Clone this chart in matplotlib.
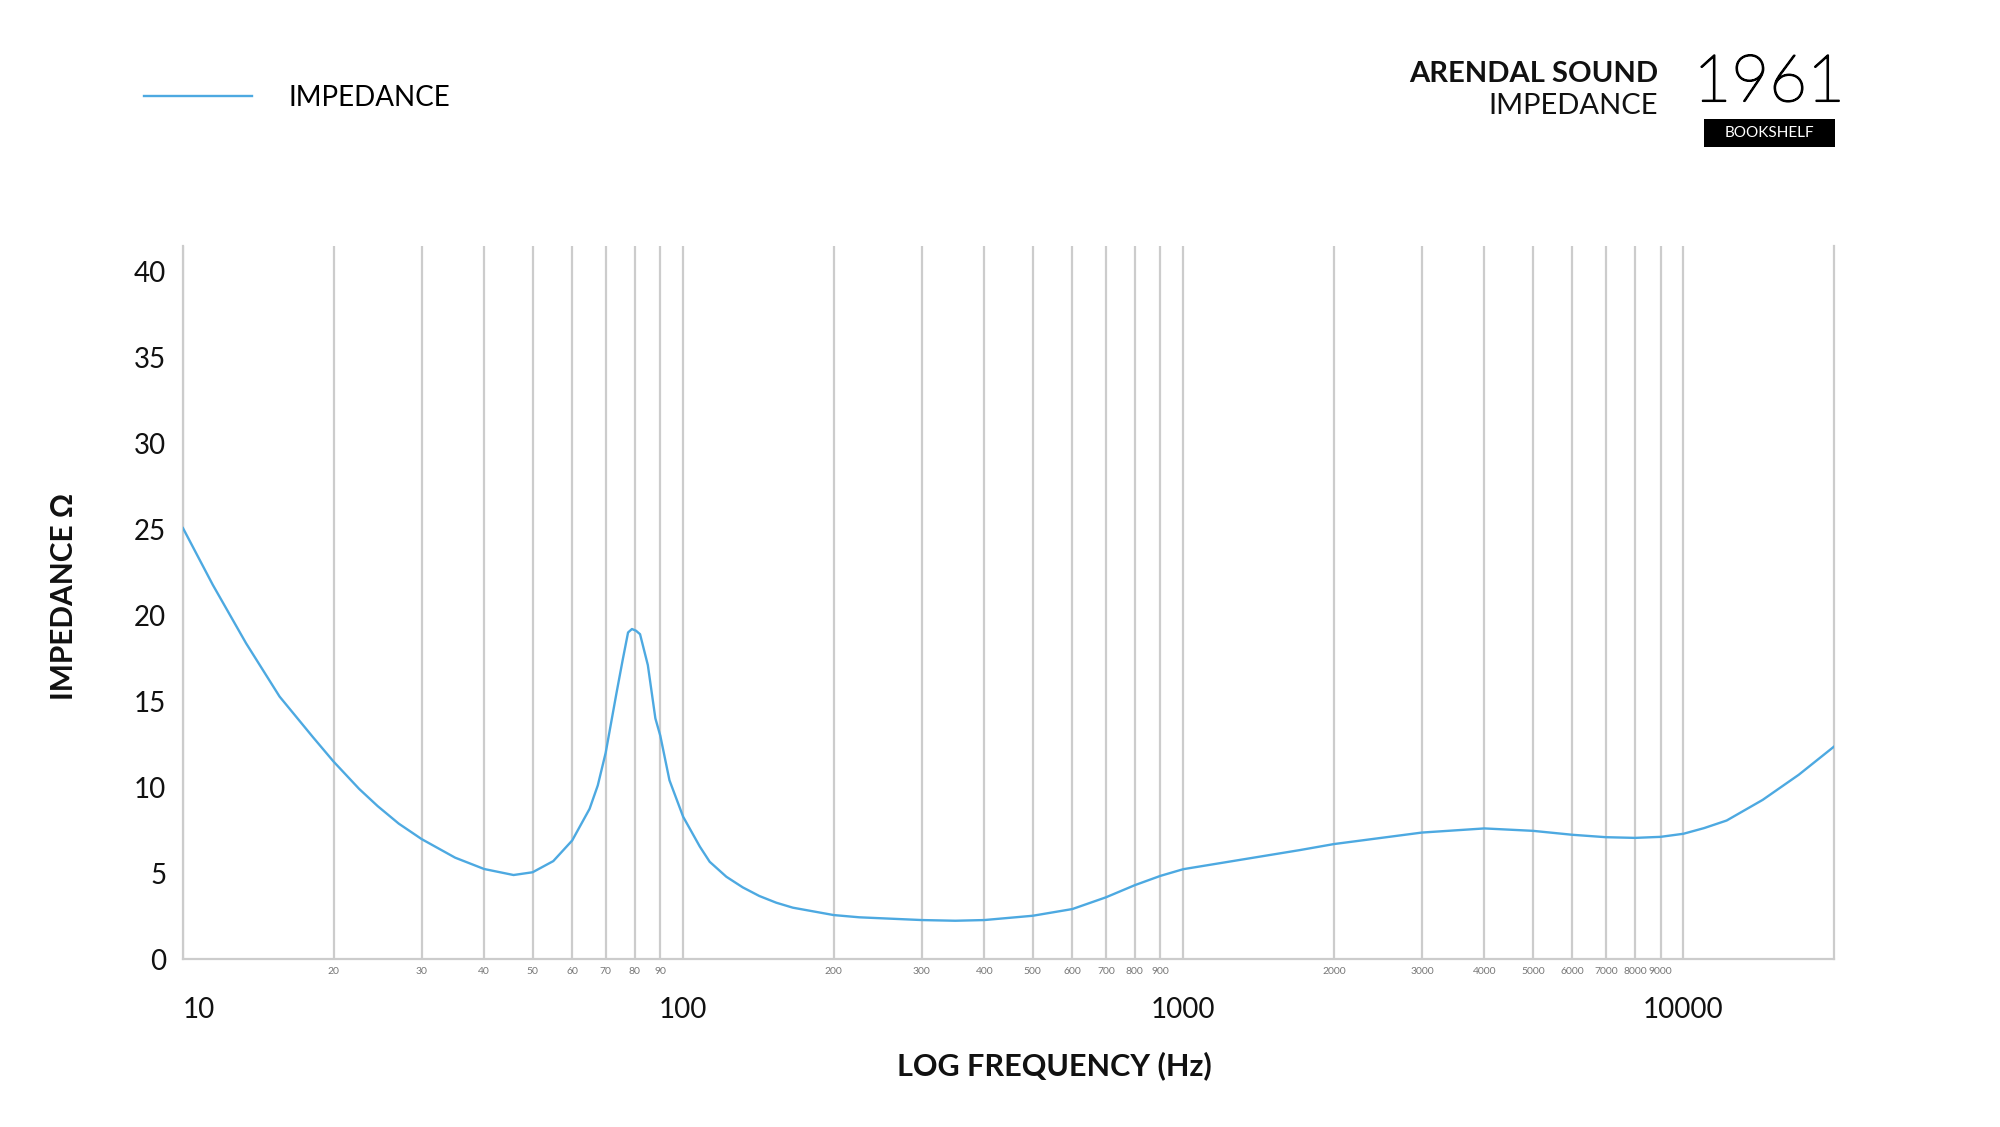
import matplotlib
matplotlib.use("Agg")
import matplotlib.pyplot as plt
import matplotlib.patheffects as pe
from matplotlib.ticker import FixedLocator, FixedFormatter
from matplotlib.patches import Rectangle

# impedance curve (Hz, ohm)
freq_hz = [10, 11.47, 13.37, 15.6, 18.2, 20, 22.5, 24.5, 27, 30, 35, 40, 45.8,
           50, 55, 60, 65, 67.5, 70, 73.6, 75.7, 77.6, 79, 80.5, 82, 85, 88,
           90, 93.9, 100, 108, 113, 122, 131.6, 142, 153.5, 165.7, 200, 225,
           300, 350, 400, 500, 600, 700, 800, 900, 1000, 1710, 2000, 3000,
           4000, 5000, 6000, 7000, 8000, 9000, 10000, 11000, 12200, 14400,
           17000, 20000]
impedance_ohm = [25.07, 21.77, 18.37, 15.27, 12.9, 11.49, 9.9, 8.9, 7.88, 6.98,
                 5.9, 5.24, 4.89, 5.05, 5.7, 6.9, 8.74, 10.1, 12.0, 15.5, 17.4,
                 19.0, 19.2, 19.1, 18.9, 17.1, 14.0, 13.0, 10.4, 8.28, 6.54, 5.66,
                 4.79, 4.17, 3.67, 3.28, 2.99, 2.56, 2.43, 2.27, 2.23, 2.27, 2.52,
                 2.91, 3.59, 4.30, 4.84, 5.23, 6.34, 6.69, 7.36, 7.60, 7.46, 7.23,
                 7.09, 7.05, 7.11, 7.29, 7.62, 8.06, 9.26, 10.72, 12.36]

major_ticks = [10, 100, 1000, 10000]
minor_ticks = [20, 30, 40, 50, 60, 70, 80, 90,
               200, 300, 400, 500, 600, 700, 800, 900,
               2000, 3000, 4000, 5000, 6000, 7000, 8000, 9000]
y_ticks = [0, 5, 10, 15, 20, 25, 30, 35, 40]

plt.rcParams['font.family'] = ['Lato', 'DejaVu Sans']

fig = plt.figure(figsize=(20, 11.27), dpi=100)
ax = fig.add_axes([0.0915, 0.149, 0.8255, 0.633])

line, = ax.plot(freq_hz, impedance_ohm, color='#4da9e1', lw=1.7,
                label='IMPEDANCE', zorder=3)

ax.set_xscale('log')
ax.set_xlim(10, 20000)
ax.set_ylim(0, 41.5)

grid_col = '#cccccc'
ax.xaxis.set_major_locator(FixedLocator(major_ticks))
ax.xaxis.set_major_formatter(FixedFormatter([str(t) for t in major_ticks]))
ax.xaxis.set_minor_locator(FixedLocator(minor_ticks))
ax.xaxis.set_minor_formatter(FixedFormatter([str(t) for t in minor_ticks]))
ax.set_yticks(y_ticks)
ax.grid(which='both', axis='x', color=grid_col, lw=1.6)

ax.tick_params(axis='x', which='major', length=0, pad=27, labelsize=20,
               labelcolor='#111111')
ax.tick_params(axis='x', which='minor', length=0, pad=6, labelsize=7.5,
               labelcolor='#777777')
ax.tick_params(axis='y', length=0, pad=12, labelsize=20, labelcolor='#111111')
ax.get_xticklabels()[0].set_horizontalalignment('left')

for side in ['left', 'bottom', 'right']:
    ax.spines[side].set_color(grid_col)
    ax.spines[side].set_linewidth(1.6)
ax.spines['top'].set_visible(False)

fig.text(0.032, 0.471, 'IMPEDANCE Ω', rotation=90, ha='center', va='center',
         fontsize=21.5, fontweight='bold', color='#111111')
fig.text(0.527, 0.054, 'LOG FREQUENCY (Hz)', ha='center', va='center',
         fontsize=22, fontweight='bold', color='#111111')

# legend top left
fig.legend(handles=[line], loc='center left', bbox_to_anchor=(0.072, 0.913),
           frameon=False, borderpad=0, borderaxespad=0, handlelength=3.9,
           handletextpad=1.3, prop={'size': 20})

# header top right
fig.text(0.829, 0.934, 'ARENDAL SOUND', ha='right', va='center', fontsize=21,
         fontweight='bold', color='#111111')
fig.text(0.829, 0.906, 'IMPEDANCE', ha='right', va='center', fontsize=21,
         color='#111111')
fig.text(0.8846, 0.926, '1961', ha='center', va='center', fontsize=47,
         fontweight='light', color='#000000',
         path_effects=[pe.withStroke(linewidth=1.3, foreground='#000000')])
fig.patches.append(Rectangle((0.852, 0.8696), 0.0655, 0.0248, transform=fig.transFigure,
                             facecolor='black', edgecolor='none'))
fig.text(0.8848, 0.882, 'BOOKSHELF', ha='center', va='center', fontsize=11,
         color='white')

fig.savefig('out.png', dpi=100, facecolor='white')
